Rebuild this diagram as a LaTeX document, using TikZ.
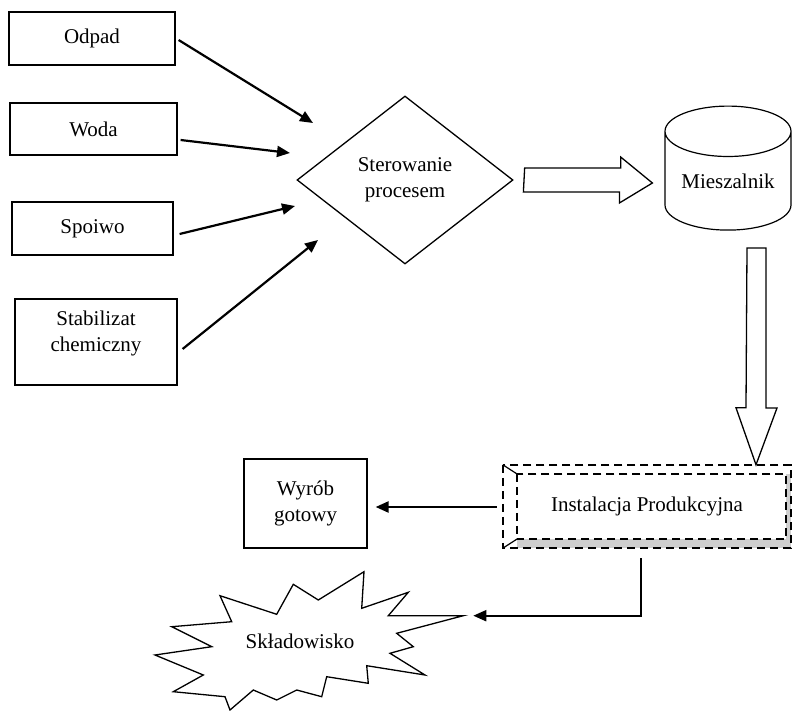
\documentclass[tikz,border=0pt]{standalone}
\usepackage{fontspec}
\setmainfont{Liberation Serif}
\usepackage{tikz}
\usetikzlibrary{shapes, arrows.meta, positioning, calc}

\begin{document}
\begin{tikzpicture}[
        x=1pt, y=-1pt,
        font=\fontsize{21}{26}\selectfont,
        >={Triangle[length=13pt,width=11pt]},
        block/.style={rectangle, draw, line width=1.2pt, align=center, inner sep=0pt},
        line/.style={draw, line width=2.2pt, ->},
        fatarrow/.style={draw, line width=1.3pt, fill=white, line join=miter},
        dashbox/.style={draw, line width=1.8pt, dash pattern=on 8pt off 5pt}
    ]
        \useasboundingbox (0,0) rectangle (793,711);

        % Inputs (left column)
        \node [block, minimum width=166pt, minimum height=53pt] (odpad) at (92,38.5) {Odpad};
        \node [block, node distance=90.5pt, below of=odpad, xshift=1.5pt, minimum width=167pt, minimum height=52pt] (woda) {Woda};
        \node [block, node distance=99.5pt, below of=woda, xshift=-1pt, minimum width=161pt, minimum height=53pt] (spoiwo) {Spoiwo};
        \node [block, node distance=113.5pt, below of=spoiwo, xshift=3.5pt, minimum width=162pt, minimum height=86pt, text depth=22pt] (stab) {Stabilizat\\chemiczny};

        % Control and mixer
        \node [diamond, draw, line width=1.3pt, aspect=1.29, minimum width=216pt, minimum height=168pt, inner sep=0pt, align=center] (ctrl) at (405,180) {Sterowanie\\procesem};
        \node [cylinder, draw, line width=1.2pt, shape border rotate=90, aspect=0.54, minimum width=126pt, minimum height=124pt, inner sep=0pt, node distance=323pt, right of=ctrl, yshift=-1pt] (mixer) {Mieszalnik};

        % Production line (below mixer)
        \node [minimum width=288pt, minimum height=83pt, inner sep=0pt, node distance=325.5pt, below of=mixer, xshift=-81pt] (inst) {Instalacja Produkcyjna};
        \node [block, minimum width=123pt, minimum height=89pt, node distance=341.5pt, left of=inst, yshift=3pt] (wyrob) {Wyrób\\gotowy};

        % Landfill
        \draw [line width=1.3pt, fill=white, line join=miter]
            (220,595.7) -- (276.7,614.3) -- (293.3,584.3) -- (318.3,600) -- (364,571.7)
            -- (361.7,608.3) -- (408.3,592.3) -- (388.3,615.7) -- (463.3,615.7)
            -- (396.7,633.3) -- (413.3,646.7) -- (390,653.3) -- (425,675) -- (366.7,665.7)
            -- (368.3,683.3) -- (326.7,676.7) -- (321.7,696.7) -- (296.7,690) -- (276.7,700)
            -- (253.3,690) -- (230,710) -- (225,696.7) -- (173.3,691.7) -- (203.3,675)
            -- (155,655) -- (211.7,646.7) -- (171.7,626.7) -- (231.7,621.7) -- cycle;
        \node (dump) at (300,641) {Składowisko};
        \coordinate (dumptip) at (463.3,615.7);

        % 3D dashed frame of the installation
        \fill [gray!38] ($(inst.south west)+(14,-9)$) rectangle (inst.south east);
        \fill [gray!38] ($(inst.north east)+(-5,9)$) rectangle (inst.south east);
        \draw [dashbox] (inst.north west) rectangle (inst.south east);
        \draw [dashbox] ($(inst.north west)+(14,9)$) rectangle ($(inst.south east)+(-5,-9)$);
        \draw [line width=1.2pt] (inst.north west) -- ++(14,9);
        \draw [line width=1.2pt] (inst.south west) -- ++(14,-9);

        % Connections
        \draw [line] ($(odpad.east)+(3,1.5)$) -- ($(ctrl)+(-92,-57)$);
        \draw [line] ($(woda.east)+(3,11)$) -- ($(ctrl)+(-115,-27)$);
        \draw [line] ($(spoiwo.east)+(6,5.5)$) -- ($(ctrl)+(-110,26)$);
        \draw [line] ($(stab.east)+(5,7)$) -- ($(ctrl)+(-87,60)$);

        % Block arrows
        \draw [fatarrow] ($(ctrl.east)+(11,-12)$) -- ++(96,0) -- ++(0,-11) -- ($(mixer.west)+(-12,2)$)
            -- ++(-33,20) -- ++(0,-11) -- ++(-96,0) -- cycle;
        \draw [fatarrow] (747,248) -- ++(19,0) -- ++(0,160) -- ++(11,0)
            -- ($(inst.north)+(109,0)$) -- ++(-20,-57) -- ++(10,0) -- cycle;

        % Outputs
        \draw [line] ($(inst.west)+(-6,0.5)$) -- ($(wyrob.east |- inst.west)+(8,0.5)$);
        \draw [line, line width=2pt] ($(inst.south)+(-6,10)$) |- ($(dumptip)+(10,0)$);

    \end{tikzpicture}
\end{document}
